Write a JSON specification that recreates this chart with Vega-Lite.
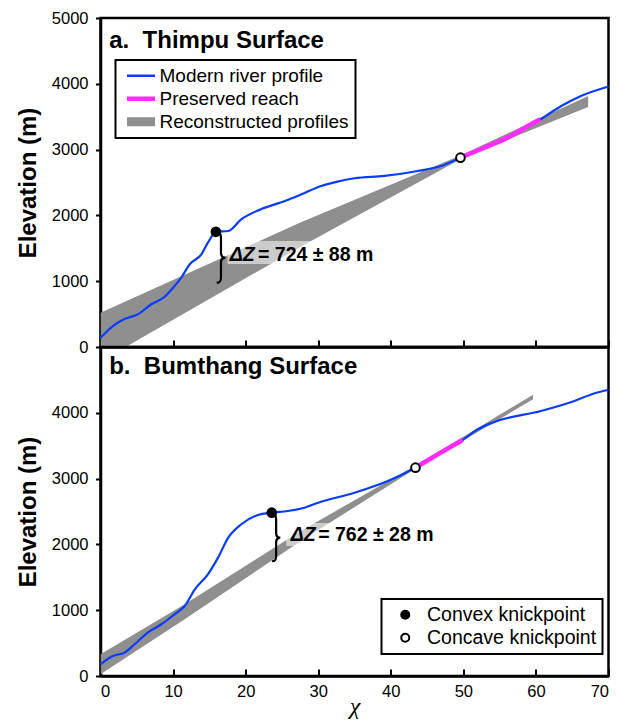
{
  "$schema": "https://vega.github.io/schema/vega-lite/v6.json",
  "padding": {"left": 15.5, "top": 8, "right": 4, "bottom": 2},
  "bounds": "flush",
  "spacing": 0,
  "background": "white",
  "datasets": {
    "bandA": [
      {"chi": 0, "z": -218, "z2": 521, "series": "Reconstructed profiles"},
      {"chi": 27.7, "z": 1530, "z2": 1900, "series": "Reconstructed profiles"},
      {"chi": 49.6, "z": 2855, "z2": 2910, "series": "Reconstructed profiles"},
      {"chi": 60.7, "z": 3359, "z2": 3485, "series": "Reconstructed profiles"},
      {"chi": 67.2, "z": 3648, "z2": 3815, "series": "Reconstructed profiles"}
    ],
    "boxA": [{"chi": 17.5, "chi2": 38, "z": 1262, "z2": 1611}],
    "profileA": [
      {"chi": 0, "z": 141}, {"chi": 1.7, "z": 319}, {"chi": 3.3, "z": 425}, {"chi": 5.2, "z": 500},
      {"chi": 7.0, "z": 650}, {"chi": 8.8, "z": 760}, {"chi": 10, "z": 900}, {"chi": 11.1, "z": 1050},
      {"chi": 12.3, "z": 1257}, {"chi": 13.9, "z": 1409}, {"chi": 14.8, "z": 1585}, {"chi": 15.9, "z": 1750},
      {"chi": 17.6, "z": 1763}, {"chi": 19.4, "z": 1941}, {"chi": 22.1, "z": 2093}, {"chi": 25.4, "z": 2219},
      {"chi": 27.7, "z": 2321}, {"chi": 30.4, "z": 2447}, {"chi": 32.5, "z": 2510}, {"chi": 35, "z": 2565},
      {"chi": 39.1, "z": 2600}, {"chi": 43.7, "z": 2675}, {"chi": 46.9, "z": 2751}, {"chi": 49.6, "z": 2877},
      {"chi": 52.9, "z": 3030}, {"chi": 56.1, "z": 3182}, {"chi": 58.9, "z": 3359}, {"chi": 60.6, "z": 3461},
      {"chi": 63.5, "z": 3663}, {"chi": 66.2, "z": 3815}, {"chi": 70, "z": 3960}
    ],
    "reachA": [
      {"chi": 49.6, "z": 2877}, {"chi": 52.9, "z": 3030}, {"chi": 56.1, "z": 3182}, {"chi": 58.9, "z": 3359}, {"chi": 60.6, "z": 3461}
    ],
    "knickA": [
      {"chi": 15.9, "z": 1750, "type": "Convex knickpoint"},
      {"chi": 49.6, "z": 2877, "type": "Concave knickpoint"}
    ],
    "braceA": [{"chi": 16.6, "z": 1357}],
    "dzA1": [{"chi": 17.8, "z": 1307, "label": "ΔZ"}],
    "dzA2": [{"chi": 21.7, "z": 1307, "label": "= 724 ± 88 m"}],
    "titleA": [{"chi": 1.2, "z": 4540, "label": "a. \u00a0Thimpu Surface"}],
    "bandB": [
      {"chi": 0, "z": 25, "z2": 330, "series": "Reconstructed profiles"},
      {"chi": 11.6, "z": 862, "z2": 1090, "series": "Reconstructed profiles"},
      {"chi": 27.6, "z": 2052, "z2": 2204, "series": "Reconstructed profiles"},
      {"chi": 43.4, "z": 3150, "z2": 3200, "series": "Reconstructed profiles"},
      {"chi": 59.6, "z": 4205, "z2": 4275, "series": "Reconstructed profiles"}
    ],
    "boxB": [{"chi": 25.6, "chi2": 46.3, "z": 1976, "z2": 2326}],
    "profileB": [
      {"chi": 0, "z": 178}, {"chi": 1.7, "z": 304}, {"chi": 3.3, "z": 355}, {"chi": 4.7, "z": 482},
      {"chi": 6.5, "z": 659}, {"chi": 8.4, "z": 786}, {"chi": 10.2, "z": 938}, {"chi": 11.6, "z": 1064},
      {"chi": 13.0, "z": 1317}, {"chi": 14.8, "z": 1546}, {"chi": 16.2, "z": 1799}, {"chi": 17.6, "z": 2103},
      {"chi": 19.4, "z": 2306}, {"chi": 21.7, "z": 2447}, {"chi": 23.6, "z": 2482}, {"chi": 25.8, "z": 2508},
      {"chi": 28.1, "z": 2558}, {"chi": 30.0, "z": 2634}, {"chi": 35, "z": 2786}, {"chi": 39.6, "z": 2964},
      {"chi": 43.4, "z": 3166}, {"chi": 46.5, "z": 3370}, {"chi": 49.9, "z": 3587}, {"chi": 52.0, "z": 3749},
      {"chi": 54.3, "z": 3861}, {"chi": 60.7, "z": 4028}, {"chi": 65.3, "z": 4180}, {"chi": 68.1, "z": 4297},
      {"chi": 70, "z": 4350}
    ],
    "reachB": [
      {"chi": 43.4, "z": 3166}, {"chi": 46.5, "z": 3370}, {"chi": 49.9, "z": 3587}
    ],
    "knickB": [
      {"chi": 23.6, "z": 2482, "type": "Convex knickpoint"},
      {"chi": 43.4, "z": 3166, "type": "Concave knickpoint"}
    ],
    "braceB": [{"chi": 24.2, "z": 2102}],
    "dzB1": [{"chi": 26.2, "z": 2052, "label": "ΔZ"}],
    "dzB2": [{"chi": 30.0, "z": 2052, "label": "= 762 ± 28 m"}],
    "titleB": [{"chi": 1.2, "z": 4586, "label": "b. \u00a0Bumthang Surface"}]
  },
  "vconcat": [
    {
      "width": 508,
      "height": 329,
      "encoding": {
        "x": {"field": "chi", "type": "quantitative",
          "scale": {"domain": [0, 70], "nice": false, "zero": false},
          "axis": {"values": [0, 10, 20, 30, 40, 50, 60, 70], "labels": false, "title": null, "tickSize": -7}},
        "y": {"field": "z", "type": "quantitative",
          "scale": {"domain": [0, 5000], "nice": false},
          "axis": {"values": [0, 1000, 2000, 3000, 4000, 5000], "format": "d", "title": "Elevation (m)", "tickSize": 5, "labelPadding": 7.5, "titlePadding": 10.5}}
      },
      "layer": [
        {
          "data": {"name": "bandA"},
          "mark": {"type": "area", "clip": true, "opacity": 1},
          "encoding": {
            "y2": {"field": "z2"},
            "color": {"field": "series", "type": "nominal",
              "scale": {"domain": ["Modern river profile", "Preserved reach", "Reconstructed profiles"], "range": ["#0a3cff", "#ff2bff", "#8f8f8f"]},
              "legend": {
                "orient": "none", "legendX": 15, "legendY": 42, "title": null,
                "strokeColor": "black", "fillColor": "white", "padding": 6,
                "labelFontSize": 19, "labelFont": "Liberation Sans", "labelColor": "black", "labelLimit": 400,
                "symbolType": "stroke", "symbolSize": 784, "labelOffset": 9, "rowPadding": 3, "clipHeight": 19.5, "symbolOffset": 10,
                "encoding": {
                  "legend": {"strokeWidth": {"value": 2}},
                  "symbols": {
                    "shape": {"value": {"expr": "datum.label === 'Reconstructed profiles' ? 'M-1,-0.33H1V0.33H-1Z' : 'stroke'"}},
                    "fill": {"value": {"expr": "datum.label === 'Reconstructed profiles' ? '#b3b3b3' : 'transparent'"}},
                    "stroke": {"value": {"expr": "datum.label === 'Reconstructed profiles' ? 'transparent' : (datum.label === 'Preserved reach' ? '#ff2bff' : '#0a3cff')"}},
                    "strokeWidth": {"value": {"expr": "datum.label === 'Preserved reach' ? 4.5 : 2.5"}},
                    "opacity": {"value": 1}
                  }
                }
              }
            }
          }
        },
        {
          "data": {"name": "boxA"},
          "mark": {"type": "rect", "fill": "white", "opacity": 0.55},
          "encoding": {"x2": {"field": "chi2"}, "y2": {"field": "z2"}}
        },
        {
          "data": {"name": "profileA"},
          "mark": {"type": "line", "strokeWidth": 2.2, "interpolate": "monotone", "color": "#0a3cff"},
          "encoding": {}
        },
        {
          "data": {"name": "reachA"},
          "mark": {"type": "line", "strokeWidth": 4.5, "interpolate": "monotone", "color": "#ff2bff"},
          "encoding": {}
        },
        {
          "data": {"name": "knickA"},
          "mark": {"type": "point", "filled": true, "stroke": "black", "strokeWidth": 2, "size": 75, "opacity": 1},
          "encoding": {
            "fill": {"field": "type", "type": "nominal",
              "scale": {"domain": ["Convex knickpoint", "Concave knickpoint"], "range": ["black", "white"]},
              "legend": null}
          }
        },
        {
          "data": {"name": "braceA"},
          "mark": {"type": "point", "shape": "M-0.17,-1C-0.02,-1,0,-0.92,0,-0.78L0,-0.2C0,-0.07,0.07,0,0.18,0C0.07,0,0,0.07,0,0.2L0,0.78C0,0.92,-0.02,1,-0.17,1", "size": 2500, "filled": false, "stroke": "black", "strokeWidth": 2.2, "opacity": 1}
        },
        {
          "data": {"name": "dzA1"},
          "mark": {"type": "text", "align": "left", "baseline": "alphabetic", "fontSize": 19.5, "fontWeight": "bold", "fontStyle": "italic", "font": "Liberation Sans", "color": "black"},
          "encoding": {"text": {"field": "label"}}
        },
        {
          "data": {"name": "dzA2"},
          "mark": {"type": "text", "align": "left", "baseline": "alphabetic", "fontSize": 19.5, "fontWeight": "bold", "font": "Liberation Sans", "color": "black"},
          "encoding": {"text": {"field": "label"}}
        },
        {
          "data": {"name": "titleA"},
          "mark": {"type": "text", "align": "left", "baseline": "alphabetic", "fontSize": 24, "fontWeight": "bold", "font": "Liberation Sans", "color": "black"},
          "encoding": {"text": {"field": "label"}}
        }
      ]
    },
    {
      "width": 508,
      "height": 329,
      "encoding": {
        "x": {"field": "chi", "type": "quantitative",
          "scale": {"domain": [0, 70], "nice": false, "zero": false},
          "axis": {"values": [0, 10, 20, 30, 40, 50, 60, 70], "format": "d", "title": "χ", "tickSize": -7, "labelPadding": 14,
            "titleFont": "Liberation Serif", "titleFontStyle": "italic", "titleFontWeight": "normal", "titleFontSize": 24, "titlePadding": -5}},
        "y": {"field": "z", "type": "quantitative",
          "scale": {"domain": [0, 5000], "nice": false},
          "axis": {"values": [0, 1000, 2000, 3000, 4000], "format": "d", "title": "Elevation (m)", "tickSize": 5, "labelPadding": 7.5, "titlePadding": 10.5}}
      },
      "layer": [
        {
          "data": {"name": "bandB"},
          "mark": {"type": "area", "clip": true, "opacity": 1, "color": "#8f8f8f"},
          "encoding": {"y2": {"field": "z2"}}
        },
        {
          "data": {"name": "boxB"},
          "mark": {"type": "rect", "fill": "white", "opacity": 0.55},
          "encoding": {"x2": {"field": "chi2"}, "y2": {"field": "z2"}}
        },
        {
          "data": {"name": "profileB"},
          "mark": {"type": "line", "strokeWidth": 2.2, "interpolate": "monotone", "color": "#0a3cff"},
          "encoding": {}
        },
        {
          "data": {"name": "reachB"},
          "mark": {"type": "line", "strokeWidth": 4.5, "interpolate": "monotone", "color": "#ff2bff"},
          "encoding": {}
        },
        {
          "data": {"name": "knickB"},
          "mark": {"type": "point", "filled": true, "stroke": "black", "strokeWidth": 2, "size": 75, "opacity": 1},
          "encoding": {
            "fill": {"field": "type", "type": "nominal",
              "scale": {"domain": ["Convex knickpoint", "Concave knickpoint"], "range": ["black", "white"]},
              "legend": {
                "orient": "none", "legendX": 281, "legendY": 252, "title": null,
                "strokeColor": "black", "fillColor": "white", "padding": 6,
                "labelFontSize": 19.5, "labelFont": "Liberation Sans", "labelColor": "black", "labelLimit": 400,
                "symbolType": "circle", "symbolSize": 64, "labelOffset": 12, "rowPadding": 2, "symbolOffset": 8,
                "encoding": {
                  "legend": {"strokeWidth": {"value": 2}},
                  "symbols": {"stroke": {"value": "black"}, "strokeWidth": {"value": 2}, "opacity": {"value": 1}}
                }
              }
            }
          }
        },
        {
          "data": {"name": "braceB"},
          "mark": {"type": "point", "shape": "M-0.17,-1C-0.02,-1,0,-0.92,0,-0.78L0,-0.2C0,-0.07,0.07,0,0.18,0C0.07,0,0,0.07,0,0.2L0,0.78C0,0.92,-0.02,1,-0.17,1", "size": 2209, "filled": false, "stroke": "black", "strokeWidth": 2.2, "opacity": 1}
        },
        {
          "data": {"name": "dzB1"},
          "mark": {"type": "text", "align": "left", "baseline": "alphabetic", "fontSize": 19.5, "fontWeight": "bold", "fontStyle": "italic", "font": "Liberation Sans", "color": "black"},
          "encoding": {"text": {"field": "label"}}
        },
        {
          "data": {"name": "dzB2"},
          "mark": {"type": "text", "align": "left", "baseline": "alphabetic", "fontSize": 19.5, "fontWeight": "bold", "font": "Liberation Sans", "color": "black"},
          "encoding": {"text": {"field": "label"}}
        },
        {
          "data": {"name": "titleB"},
          "mark": {"type": "text", "align": "left", "baseline": "alphabetic", "fontSize": 24, "fontWeight": "bold", "font": "Liberation Sans", "color": "black"},
          "encoding": {"text": {"field": "label"}}
        }
      ]
    }
  ],
  "resolve": {
    "scale": {"color": "independent", "fill": "independent"},
    "legend": {"color": "independent", "fill": "independent"}
  },
  "config": {
    "font": "Liberation Sans",
    "view": {"stroke": "black", "strokeWidth": 2.5},
    "axis": {
      "domainColor": "black", "domainWidth": 2.5, "tickColor": "black", "tickWidth": 2,
      "labelColor": "black", "labelFontSize": 16.5, "labelFont": "Liberation Sans",
      "titleColor": "black", "titleFont": "Liberation Sans", "titleFontSize": 24, "titleFontWeight": "bold",
      "grid": false
    }
  }
}
